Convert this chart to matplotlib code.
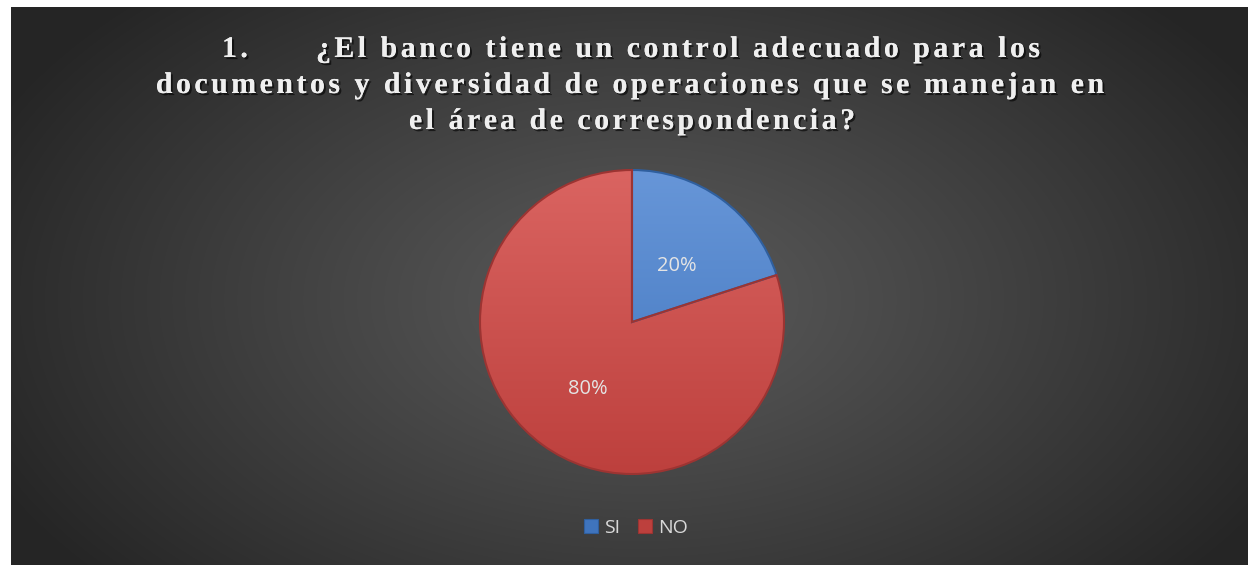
import numpy as np
import matplotlib
matplotlib.use("Agg")
import matplotlib.pyplot as plt
import matplotlib.patheffects as pe
from matplotlib.font_manager import FontProperties
from matplotlib.patches import Rectangle

# ---- data ----
categories = ["SI", "NO"]
values = [20, 80]
title_lines = [
    ("1.", "¿El banco tiene un control adecuado para los"),
    "documentos y diversidad de operaciones que se manejan en",
    "el área de correspondencia?",
]
colors_top = ["#6796d8", "#da6461"]
colors_bot = ["#3f74bd", "#bd403d"]
edge_cols = ["#2f5f9e", "#9c3432"]

W, H = 1248, 565
DPI = 100
fig = plt.figure(figsize=(W / DPI, H / DPI), dpi=DPI, facecolor="white")
ax = fig.add_axes([0, 0, 1, 1])
ax.set_xlim(0, W)
ax.set_ylim(H, 0)
ax.axis("off")

# background radial gradient
x0, y0 = 11, 7
yy, xx = np.mgrid[y0:H, x0:W]
cx, cy, rx, ry = 640, 300, 720, 430
d = np.sqrt(((xx - cx) / rx) ** 2 + ((yy - cy) / ry) ** 2)
d = np.clip(d, 0, 1)
v = (90 - (90 - 37) * d ** 1.1) / 255.0
img = np.dstack([v, v, v])
ax.imshow(img, extent=[x0, W, H, y0], aspect="auto", interpolation="bilinear", zorder=0)

# ---- title with letter spacing ----
fig.canvas.draw()
renderer = fig.canvas.get_renderer()
tprop = FontProperties(family="Liberation Serif", weight="bold", size=21.5)
spacing = 3.5
shadow = [pe.withSimplePatchShadow(offset=(1.5, -1.5), shadow_rgbFace="black", alpha=0.6), pe.Normal()]


def w_of(s):
    if not s:
        return 0.0
    w1, _, _ = renderer.get_text_width_height_descent(s + "|", tprop, ismath=False)
    w2, _, _ = renderer.get_text_width_height_descent("|", tprop, ismath=False)
    return w1 - w2


def line_width(s):
    return w_of(s) + spacing * (len(s) - 1)


def draw_line(s, xleft, ybase):
    for i, ch in enumerate(s):
        if ch == " ":
            continue
        xi = xleft + w_of(s[:i]) + spacing * i
        ax.text(xi, ybase, ch, fontproperties=tprop, color="#efefef",
                ha="left", va="baseline", path_effects=shadow, zorder=5)


baselines = [57, 93, 129]
num, rest = title_lines[0]
draw_line(num, 222, baselines[0])
draw_line(rest, 316, baselines[0])
for s, yb, xc in [(title_lines[1], baselines[1], 630), (title_lines[2], baselines[2], 632)]:
    draw_line(s, xc - line_width(s) / 2, yb)

# ---- pie ----
pcx, pcy, R = 632, 322, 152
pax = fig.add_axes([(pcx - R) / W, (H - pcy - R) / H, 2 * R / W, 2 * R / H])
pax.axis("off")
wedges, texts, autotexts = pax.pie(
    values, startangle=90, counterclock=False, radius=1,
    colors=colors_bot, autopct="%1.0f%%", pctdistance=0.5,
    wedgeprops=dict(linewidth=1.2, edgecolor="#555555"),
    textprops=dict(color="#e4e4e4", fontsize=14.5, family="Open Sans"),
)
gy = np.linspace(1, 0, 200)[:, None] * np.ones((1, 2))
for wdg, ct, cb, ec in zip(wedges, colors_top, colors_bot, edge_cols):
    c1 = np.array(matplotlib.colors.to_rgb(ct))
    c2 = np.array(matplotlib.colors.to_rgb(cb))
    grad = c2[None, None, :] + (c1 - c2)[None, None, :] * gy[:, :, None]
    im = pax.imshow(grad, extent=[-1, 1, -1, 1], aspect="auto", zorder=1,
                    interpolation="bilinear")
    im.set_clip_path(wdg)
    wdg.set_zorder(2)
    wdg.set_facecolor("none")
    wdg.set_edgecolor(ec)
    wdg.set_linewidth(1.5)
pax.set_xlim(-1, 1)
pax.set_ylim(-1, 1)
pax.set_aspect("equal")
for t in autotexts:
    t.set_zorder(6)
    px, py = t.get_position()
    t.set_position((px, py - 0.035))

# ---- legend ----
handles = [Rectangle((0, 0), 1, 1, facecolor=c, edgecolor=e, linewidth=0.8)
           for c, e in zip(colors_bot, edge_cols)]
leg = fig.legend(handles, categories, loc="center", bbox_to_anchor=(636 / W, 1 - 528 / H),
                 ncol=2, frameon=False, handlelength=0.75, handleheight=0.75,
                 handletextpad=0.3, columnspacing=0.9,
                 prop=FontProperties(family="Open Sans", size=14))
for t in leg.get_texts():
    t.set_color("#d9d9d9")

fig.savefig("out.png", dpi=DPI, facecolor="white")
